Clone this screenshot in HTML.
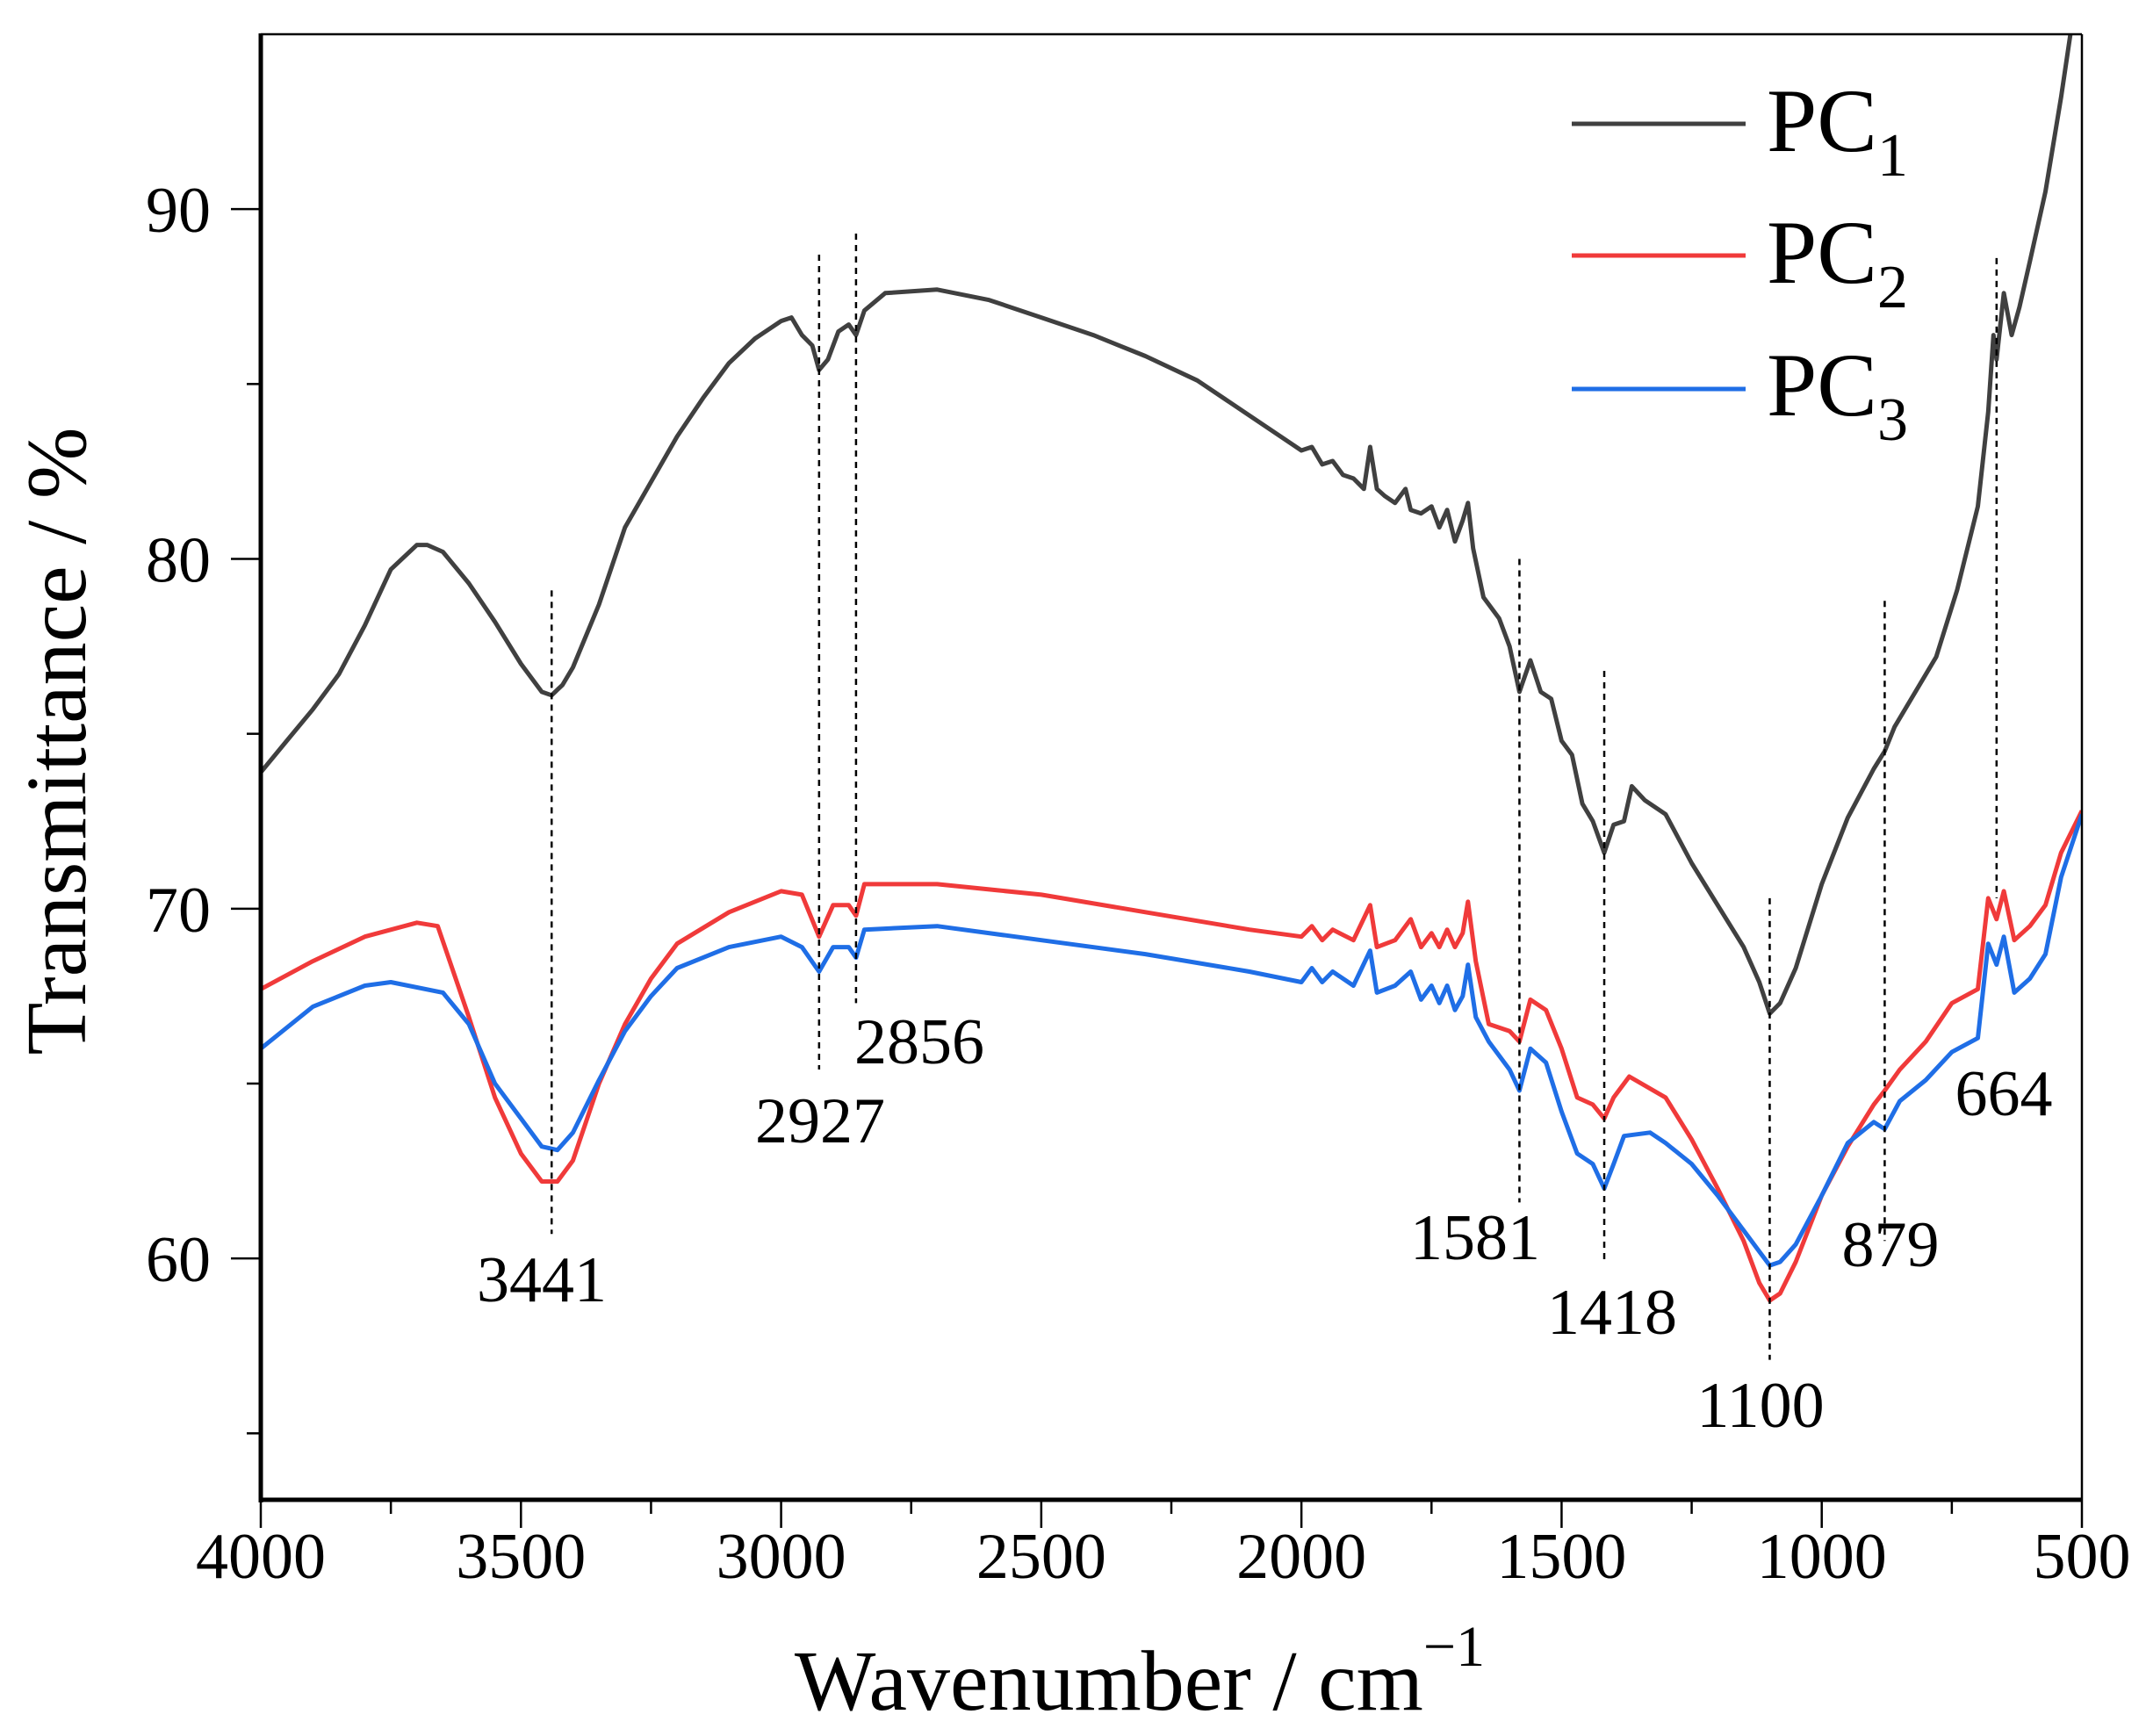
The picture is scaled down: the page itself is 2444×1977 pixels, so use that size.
<!DOCTYPE html>
<html><head><meta charset="utf-8"><style>
html,body{margin:0;padding:0;background:#fff;}
svg{display:block;font-family:"Liberation Serif",serif;}
</style></head><body>
<svg id="chart" width="2444" height="1977" viewBox="0 0 2444 1977" xmlns="http://www.w3.org/2000/svg">
<defs><clipPath id="plotclip"><rect x="297" y="39" width="2074" height="1669"/></clipPath></defs>
<g id="series" clip-path="url(#plotclip)"></g>
<g id="marks"></g>
<g id="axes"></g>
<g id="legend">
  <line x1="1790" y1="141" x2="1988" y2="141" stroke="#404040" stroke-width="5"/>
  <text x="2012" y="172" font-size="103">PC<tspan font-size="70" dy="28">1</tspan></text>
  <line x1="1790" y1="291" x2="1988" y2="291" stroke="#f03a3a" stroke-width="5"/>
  <text x="2012" y="322" font-size="103">PC<tspan font-size="70" dy="28">2</tspan></text>
  <line x1="1790" y1="443" x2="1988" y2="443" stroke="#1f6ee6" stroke-width="5"/>
  <text x="2012" y="473" font-size="103">PC<tspan font-size="70" dy="28">3</tspan></text>
</g>
<text x="1298" y="1947" font-size="98" text-anchor="middle">Wavenumber / cm<tspan font-size="66" dy="-50">−1</tspan></text>
<text transform="translate(97,844) rotate(-90)" font-size="98" text-anchor="middle">Transmittance / %</text>
</svg>
<script>
const pc1W=[4000,3950,3900,3850,3800,3750,3700,3680,3650,3600,3550,3500,3460,3441,3420,3400,3350,3300,3250,3200,3150,3100,3050,3000,2980,2960,2940,2927,2910,2890,2870,2856,2840,2800,2700,2600,2500,2400,2300,2200,2100,2000,1980,1960,1940,1920,1900,1880,1868,1855,1840,1820,1800,1790,1770,1750,1735,1720,1705,1690,1680,1670,1650,1620,1600,1581,1560,1540,1520,1500,1480,1460,1440,1418,1400,1380,1365,1340,1300,1250,1200,1150,1120,1100,1080,1050,1000,950,900,879,860,820,780,740,700,680,670,664,650,635,620,600,570,540,520,500];
const pc1T=[73.9,74.8,75.7,76.7,78.1,79.7,80.4,80.4,80.2,79.3,78.2,77.0,76.2,76.1,76.4,76.9,78.7,80.9,82.2,83.5,84.6,85.6,86.3,86.8,86.9,86.4,86.1,85.4,85.7,86.5,86.7,86.4,87.1,87.6,87.7,87.4,86.9,86.4,85.8,85.1,84.1,83.1,83.2,82.7,82.8,82.4,82.3,82.0,83.2,82.0,81.8,81.6,82.0,81.4,81.3,81.5,80.9,81.4,80.5,81.1,81.6,80.3,78.9,78.3,77.5,76.2,77.1,76.2,76.0,74.8,74.4,73.0,72.5,71.6,72.4,72.5,73.5,73.1,72.7,71.3,70.1,68.9,67.9,67.0,67.3,68.3,70.7,72.6,74.0,74.5,75.2,76.2,77.2,79.1,81.5,84.2,86.4,85.7,87.6,86.4,87.2,88.5,90.5,93.2,95.2,97.5];
const pc2W=[4000,3900,3800,3700,3660,3600,3550,3500,3460,3430,3400,3350,3300,3250,3200,3100,3000,2960,2927,2900,2870,2856,2840,2700,2500,2300,2100,2000,1980,1960,1940,1900,1868,1855,1820,1790,1770,1750,1735,1720,1705,1690,1680,1665,1640,1600,1581,1560,1530,1500,1470,1440,1418,1400,1370,1300,1250,1200,1150,1120,1100,1080,1050,1000,950,900,879,850,800,750,700,680,664,650,630,600,570,540,500];
const pc2T=[67.7,68.5,69.2,69.6,69.5,66.9,64.6,63.0,62.2,62.2,62.8,65.0,66.7,68.0,69.0,69.9,70.5,70.4,69.2,70.1,70.1,69.8,70.7,70.7,70.4,69.9,69.4,69.2,69.5,69.1,69.4,69.1,70.1,68.9,69.1,69.7,68.9,69.3,68.9,69.4,68.9,69.3,70.2,68.5,66.7,66.5,66.2,67.4,67.1,66.0,64.6,64.4,64.0,64.6,65.2,64.6,63.4,62.0,60.5,59.3,58.8,59.0,59.9,61.8,63.2,64.4,64.8,65.4,66.2,67.3,67.7,70.3,69.7,70.5,69.1,69.5,70.1,71.6,72.8];
const pc3W=[4000,3900,3800,3750,3650,3600,3550,3500,3460,3430,3400,3350,3300,3250,3200,3100,3000,2960,2927,2900,2870,2856,2840,2700,2500,2300,2100,2000,1980,1960,1940,1900,1868,1855,1820,1790,1770,1750,1735,1720,1705,1690,1680,1665,1640,1600,1581,1560,1530,1500,1470,1440,1418,1400,1380,1330,1300,1250,1200,1150,1120,1100,1080,1050,1000,950,900,879,850,800,750,700,680,664,650,630,600,570,540,500];
const pc3T=[66.0,67.2,67.8,67.9,67.6,66.7,65.0,64.0,63.2,63.1,63.6,65.1,66.5,67.5,68.3,68.9,69.2,68.9,68.2,68.9,68.9,68.6,69.4,69.5,69.1,68.7,68.2,67.9,68.3,67.9,68.2,67.8,68.8,67.6,67.8,68.2,67.4,67.8,67.3,67.8,67.1,67.5,68.4,66.9,66.2,65.4,64.8,66.0,65.6,64.2,63.0,62.7,62.0,62.7,63.5,63.6,63.3,62.7,61.8,60.8,60.2,59.8,59.9,60.4,61.8,63.3,63.9,63.7,64.5,65.1,65.9,66.3,69.0,68.4,69.2,67.6,68.0,68.7,70.9,72.7];
const peakW=[3441,2927,2856,1581,1418,1100,879,664];
const peakTop=[79.1,88.7,89.3,80.0,76.8,70.3,78.8,88.6];
const peakBottom=[60.7,65.4,67.3,61.6,59.9,57.1,60.5,70.3];
const peakLabels=["3441","2927","2856","1581","1418","1100","879","664"];
const peakLabelX=[617,934,1047,1680,1836,2005,2153,2282];
const peakLabelY=[1456,1275,1185,1408,1493,1599,1416,1244];
const xTicks=[4000,3500,3000,2500,2000,1500,1000,500];
const xMinor=[3750,3250,2750,2250,1750,1250,750];
const yTicks=[60,70,80,90];
const yMinor=[55,65,75,85];

const NS="http://www.w3.org/2000/svg";
const X0=297,X1=2371,Y0=39,Y1=1708,WMAX=4000,WMIN=500,TMAX=95,TMIN=53.1;
function sx(w){return X0+(WMAX-w)/(WMAX-WMIN)*(X1-X0);}
function sy(t){return Y0+(TMAX-t)/(TMAX-TMIN)*(Y1-Y0);}
function mk(tag,attrs,parent){const e=document.createElementNS(NS,tag);for(const k in attrs)e.setAttribute(k,attrs[k]);parent.appendChild(e);return e;}
const gS=document.getElementById('series'),gM=document.getElementById('marks'),gA=document.getElementById('axes');
function drawSeries(W,T,color,name){
  let d='';for(let i=0;i<W.length;i++)d+=(i?'L':'M')+sx(W[i]).toFixed(1)+','+sy(T[i]).toFixed(1);
  const p=mk('path',{d:d,fill:'none',stroke:color,'stroke-width':5,'stroke-linejoin':'round'},gS);
  
  
}
drawSeries(pc1W,pc1T,'#404040','series-pc1');
drawSeries(pc2W,pc2T,'#f03a3a','series-pc2');
drawSeries(pc3W,pc3T,'#1f6ee6','series-pc3');
for(let i=0;i<peakW.length;i++){
  const l=mk('line',{x1:sx(peakW[i]),x2:sx(peakW[i]),y1:sy(peakTop[i]),y2:sy(peakBottom[i]),stroke:'#000','stroke-width':2.5,'stroke-dasharray':'7,6'},gM);
  
  
  const t=mk('text',{x:peakLabelX[i],y:peakLabelY[i]+26,'font-size':74,'text-anchor':'middle'},gM);
  t.textContent=peakLabels[i];
  
  
}
mk('line',{x1:X0,y1:Y0,x2:X1,y2:Y0,stroke:'#000','stroke-width':2.5},gA);
mk('line',{x1:X1,y1:Y0,x2:X1,y2:Y1,stroke:'#000','stroke-width':2.5},gA);
const ya=mk('line',{x1:X0,y1:Y0-1,x2:X0,y2:Y1+3,stroke:'#000','stroke-width':5},gA);


const xa=mk('line',{x1:X0-2,y1:Y1,x2:X1+1,y2:Y1,stroke:'#000','stroke-width':5},gA);


xTicks.forEach(w=>{
  mk('line',{x1:sx(w),x2:sx(w),y1:Y1,y2:Y1+32,stroke:'#000','stroke-width':2.5},gA);
  const t=mk('text',{x:sx(w),y:1797,'font-size':74,'text-anchor':'middle'},gA);
  t.textContent=w;
  
  
});
xMinor.forEach(w=>{mk('line',{x1:sx(w),x2:sx(w),y1:Y1,y2:Y1+16,stroke:'#000','stroke-width':2.5},gA);});
yTicks.forEach(v=>{
  mk('line',{x1:X0-34,x2:X0,y1:sy(v),y2:sy(v),stroke:'#000','stroke-width':2.5},gA);
  const t=mk('text',{x:240,y:sy(v)+26,'font-size':74,'text-anchor':'end'},gA);
  t.textContent=v;
  
  
});
yMinor.forEach(v=>{mk('line',{x1:X0-16,x2:X0,y1:sy(v),y2:sy(v),stroke:'#000','stroke-width':2.5},gA);});
</script>
</body></html>
